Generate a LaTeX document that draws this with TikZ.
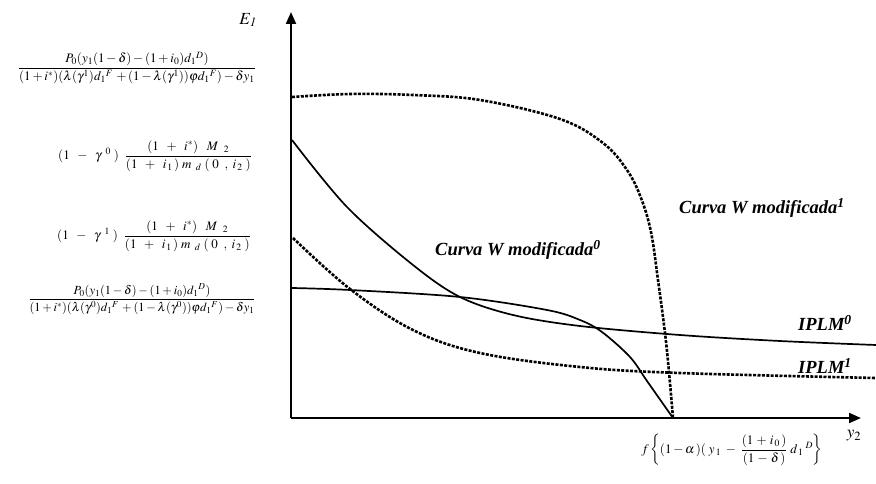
\documentclass[tikz,border=0pt]{standalone}
\usepackage{amsmath}
\usepackage{mathptmx}
\usepackage{fontspec}
\setmainfont{Liberation Serif}
\usetikzlibrary{arrows.meta}

\begin{document}
\begin{tikzpicture}[x=1pt, y=-1pt, >={Triangle[length=12pt,width=10pt]},
    eje/.style={line width=2pt},
    curva/.style={line width=1.7pt},
    punteada/.style={line width=2.6pt, dash pattern=on 3pt off 1.4pt},
    etiq/.style={font=\fontsize{18.5}{20}\selectfont\bfseries\itshape},
    formula/.style={font=\fontsize{13}{15}\selectfont}]
    \useasboundingbox (0,0) rectangle (876,484);

    % Ejes
    \coordinate (O) at (291,418);
    \coordinate (Ey) at (291,12);
    \coordinate (Ex) at (861,418);
    \draw[eje,->] (O) -- (Ey);
    \draw[eje,->] (O) -- (Ex);
    \node[font=\fontsize{17}{19}\selectfont] (E1) at (248,20) {$E_{\mathit{1}}$};
    \node[font=\fontsize{17}{19}\selectfont] (y2) at (854,436) {$y_{2}$};

    % Curva W modificada 1 (punteada)
    \draw[punteada] plot[smooth, tension=0.6] coordinates {(292,97) (350,94) (413,95) (480,100) (560,119) (603,143) (627,170) (641,198) (651,232) (658,280) (665,333) (669,372) (673,418)};

    % Curva W modificada 0 y IPLM 0 (continuas)
    \draw[curva] plot[smooth, tension=0.55] coordinates {(292,140) (347,207) (413,265) (460,297) (513,315) (580,326) (680,335) (780,341) (876,345)};
    \draw[curva] plot[smooth, tension=0.55] coordinates {(292,288) (350,290) (460,297) (547,310) (580,320) (602,332) (630,357) (647,381) (673,418)};

    % IPLM 1 (punteada)
    \draw[punteada] plot[smooth, tension=0.6] coordinates {(293,238) (350,289) (413,330) (480,353) (580,367) (680,373) (876,378)};

    % Nombres de las curvas
    \node[etiq] (w0) at (518,250) {Curva W modificada\textsuperscript{0}};
    \node[etiq] (w1) at (762,208) {Curva W modificada\textsuperscript{1}};
    \node[etiq] (ip0) at (825,323) {IPLM\textsuperscript{0}};
    \node[etiq] (ip1) at (825,366) {IPLM\textsuperscript{1}};

    % Valores del eje vertical
    \node[formula] (f1) at (137,68) {$\dfrac{P_0(y_1(1-\delta)-(1+i_0)d_1{}^{D})}{(1+i^*)(\lambda(\gamma^1)d_1{}^{F}\,+(1-\lambda(\gamma^1))\varphi d_1{}^{F})-\delta y_1}$};
    \node[formula] (f2) at (155,156) {$(1\;\;-\;\;\gamma^{\;\;0}\;)\;\;\dfrac{(1\;\;+\;\;i^*)\;\;\;M_{\;\;\;2}}{(1\;\;+\;\;i_{\,1}\,)\;m_{\;\;d}\;(\;0\;\;,\;i_{\,2}\;)}$};
    \node[formula] (f3) at (154,236) {$(1\;\;-\;\;\gamma^{\;\;1}\;)\;\;\dfrac{(1\;\;+\;\;i^*)\;\;\;M_{\;\;\;2}}{(1\;\;+\;\;i_{\,1}\,)\;m_{\;\;d}\;(\;0\;\;,\;i_{\,2}\;)}$};
    \node[formula, font=\fontsize{12.4}{14}\selectfont] (f4) at (142,299) {$\dfrac{P_0(y_1(1-\delta)-(1+i_0)d_1{}^{D})}{(1+i^*)(\lambda(\gamma^0)d_1{}^{F}\,+(1-\lambda(\gamma^0))\varphi d_1{}^{F})-\delta y_1}$};

    % Valor del eje horizontal
    \node[formula] (fx) at (732,450) {$f\left\{(1-\alpha\,)(\;y_{\,1}\;-\;\dfrac{(1\,+\,i_{\,0}\,)}{(1\,-\,\delta\,)}\;d_{\,1}{}^{\;D}\right\}$};
\end{tikzpicture}
\end{document}
